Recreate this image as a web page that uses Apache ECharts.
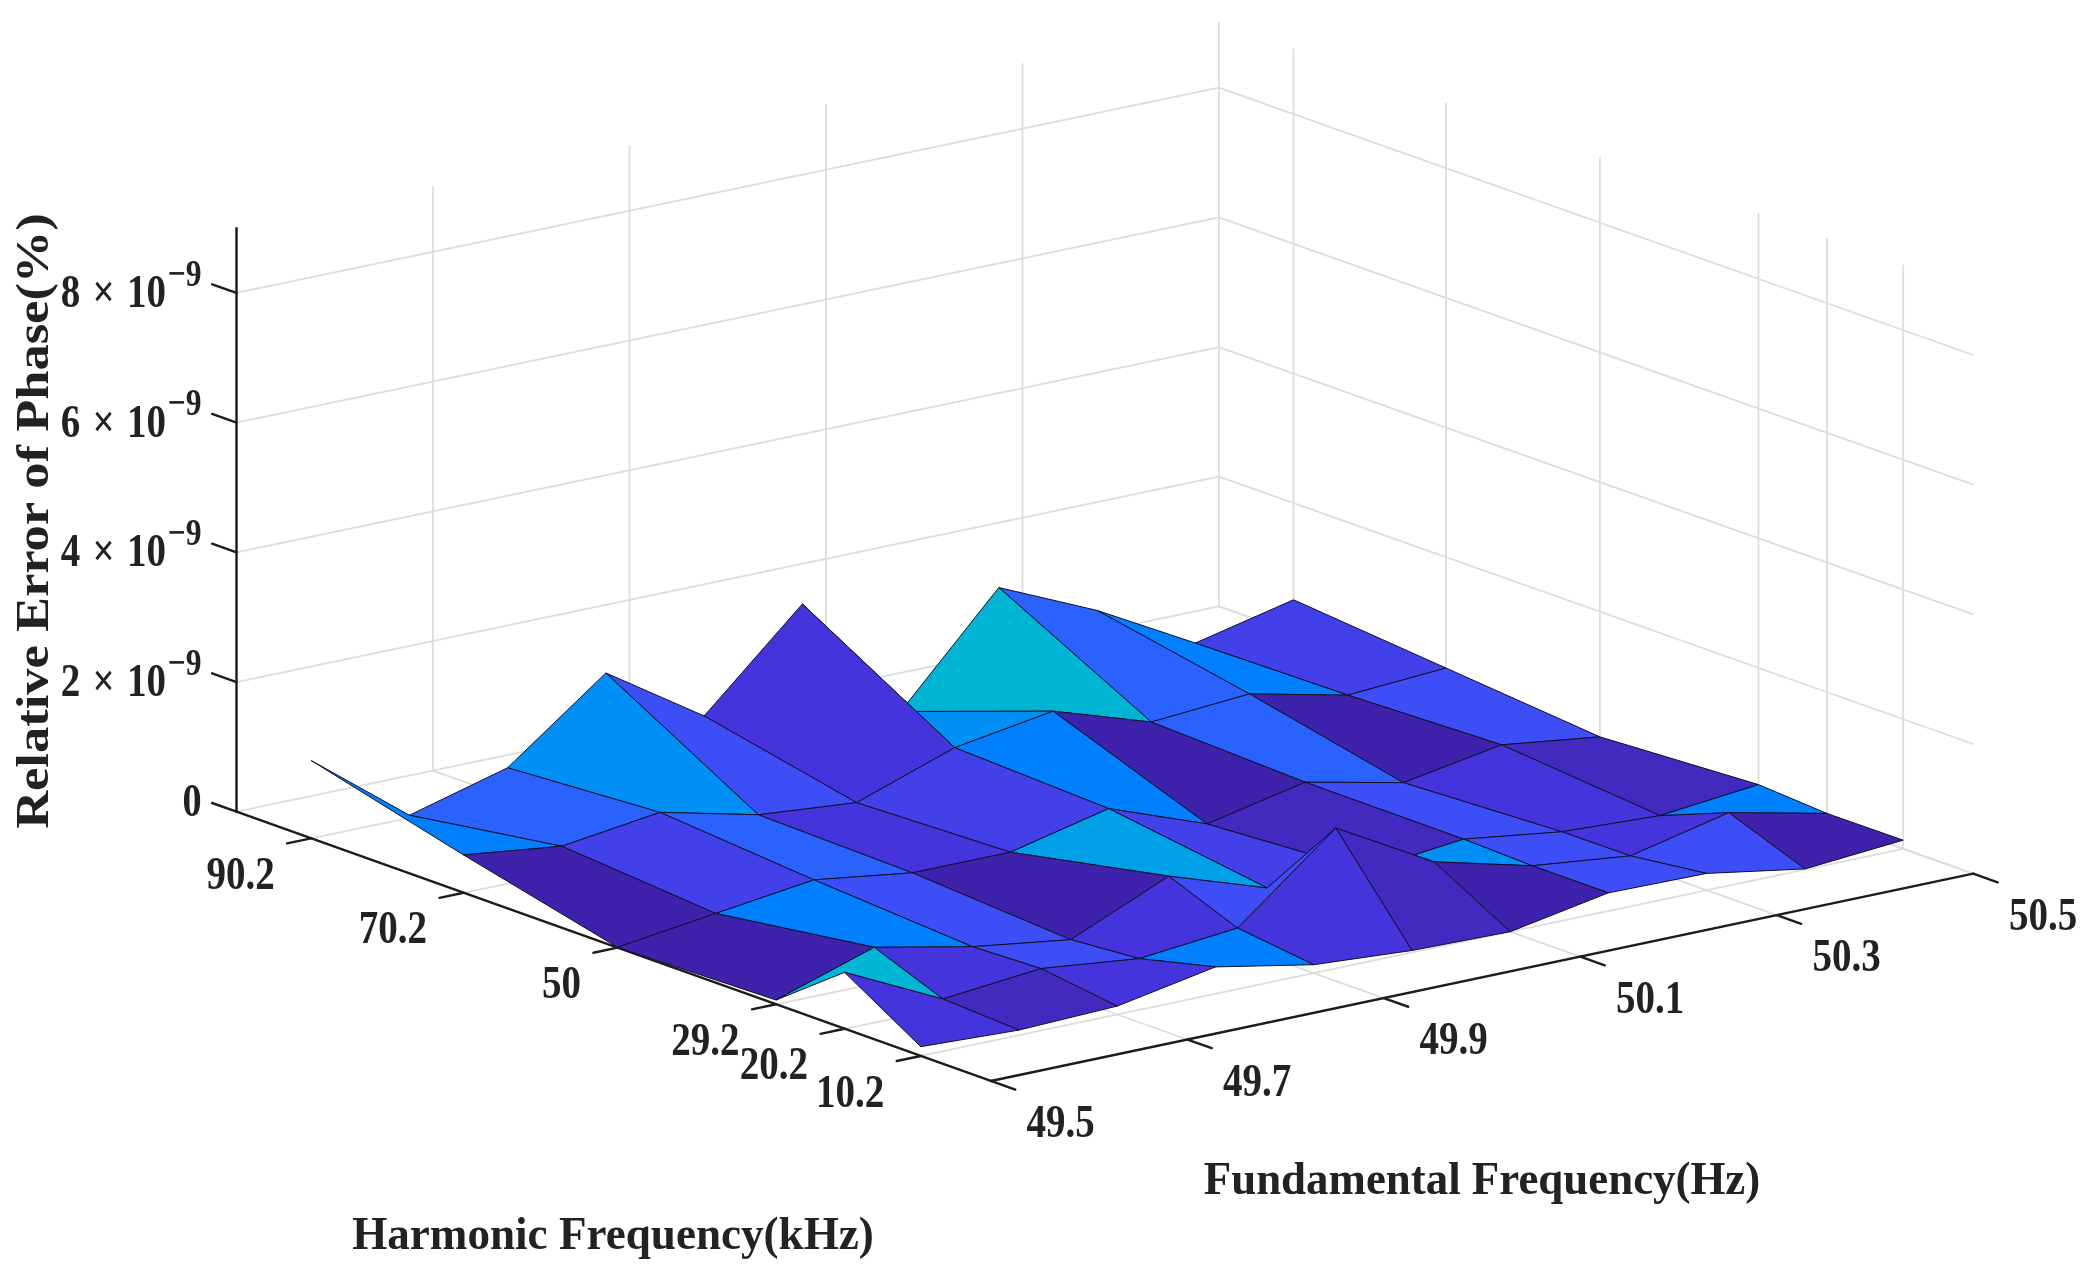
<!DOCTYPE html>
<html>
<head>
<meta charset="utf-8">
<style>html,body{margin:0;padding:0;background:#fff}#chart{width:2094px;height:1277px}</style>
<script src="https://cdn.jsdelivr.net/npm/echarts@6/dist/echarts.min.js"></script>
</head>
<body>
<div id="chart"></div>
<script>
// ---- data ----
const fundamentalFreq = [49.5,49.6,49.7,49.8,49.9,50,50.1,50.2,50.3,50.4,50.5];
const harmonicFreq = [90.2,70.2,50,29.2,20.2,10.2];
const fundamentalTicks = [49.5,49.7,49.9,50.1,50.3,50.5];
const harmonicTicks = [90.2,70.2,50,29.2,20.2,10.2];
const errorTicks = [0,2,4,6,8];
// relative error in units of 1e-9 %, one list per harmonic frequency
const errorAt90_2 = [1.2,0.04,0.455,1.6,0.62,2.03,0.055,1.65,0.98,0.16,0.51];
const errorAt70_2 = [0.583,0.4,0.605,0.25,0.12,0.65,0.895,0.41,0.526,0.19,0.29];
const errorAt50   = [0.006,0.21,0.41,0.2,0.2,0.555,0,0.325,0,0.265,0.07];
const errorAt29_2 = [0.066,0.56,0.25,0.04,0.7,0.2,0.15,0.315,0.11,0.04,0.2];
const errorAt20_2 = [0.87,0.14,0.29,0.125,0.276,1.5,0.66,0.28,0.114,0.46,0.13];
const errorAt10_2 = [0.143,0.08,0.13,0.415,0.13,0.03,0,0.28,0.26,0.01,0.134];
// colour level of every surface facet, index into the colour ramp
const facetLevel90_70 = [6,5,7,4,2,7,9,5,6,3];
const facetLevel70_50 = [0,3,5,2,3,6,0,5,0,4];
const facetLevel50_29 = [0,6,4,0,8,3,1,4,2,1];
const facetLevel29_20 = [9,2,4,2,4,4,7,4,2,6];
const facetLevel20_10 = [2,1,2,6,2,1,0,4,4,0];
const colorRamp = ['#3E22AC','#4229C0','#4534DC','#4240E8','#3D4EF6','#2A62FF','#0080FF','#0090F5','#00A0E8','#00B4D4'];
const xTitle = 'Fundamental Frequency(Hz)';
const yTitle = 'Harmonic Frequency(kHz)';
const zTitle = 'Relative Error of Phase(%)';

// ---- assembled tables ----
const errorGrid = [errorAt90_2,errorAt70_2,errorAt50,errorAt29_2,errorAt20_2,errorAt10_2];
const facetLevels = [facetLevel90_70,facetLevel70_50,facetLevel50_29,facetLevel29_20,facetLevel20_10];
const F0=49.5,F1=50.5,H0=1,H1=100,Z0=0,Z1=9;

// view of the MATLAB box onto the page plane
function project(f,h,z){
  const t=f-F0;
  return [998.5+982.4*t-7.62*h, 1083.7-207.3*t-2.72*h-64.84*z+2*t*h/100];
}

// ---- layers ----
const gridSegs=[];
errorTicks.forEach(z=>{
  gridSegs.push([[F0,H1,z],[F1,H1,z]]);
  gridSegs.push([[F1,H1,z],[F1,H0,z]]);
});
fundamentalTicks.forEach(f=>{
  gridSegs.push([[f,H1,Z0],[f,H1,Z1]]);
  gridSegs.push([[f,H0,Z0],[f,H1,Z0]]);
});
harmonicTicks.forEach(h=>{
  gridSegs.push([[F1,h,Z0],[F1,h,Z1]]);
  gridSegs.push([[F0,h,Z0],[F1,h,Z0]]);
});
const axisSegs=[
  [[F0,H1,Z0],[F0,H1,Z1]],
  [[F0,H1,Z0],[F0,H0,Z0]],
  [[F0,H0,Z0],[F1,H0,Z0]]
];
errorTicks.forEach(z=>axisSegs.push([[F0,H1,z],[F0,H1+3.2,z]]));
harmonicTicks.forEach(h=>axisSegs.push([[F0,h,Z0],[F0-0.0245,h,Z0]]));
fundamentalTicks.forEach(f=>axisSegs.push([[f,H0,Z0],[f,H0-3.2,Z0]]));

const facets=[];
for(let r=0;r<harmonicFreq.length-1;r++){
  for(let i=fundamentalFreq.length-2;i>=0;i--){
    facets.push({r,i});
  }
}

function segSeries(segs,color,width,z){
  return {
    type:'custom',coordinateSystem:'cartesian2d',silent:true,animation:false,clip:false,z,
    data:segs.map((s,k)=>[k,k]),
    renderItem(params,api){
      const s=segs[params.dataIndex];
      const a=api.coord(project(...s[0])),b=api.coord(project(...s[1]));
      return {type:'line',shape:{x1:a[0],y1:a[1],x2:b[0],y2:b[1]},style:{stroke:color,lineWidth:width,lineCap:'round'}};
    }
  };
}

const surfaceSeries={
  type:'custom',coordinateSystem:'cartesian2d',silent:true,animation:false,clip:false,z:5,
  data:facets.map((c,k)=>[k,k]),
  renderItem(params,api){
    const {r,i}=facets[params.dataIndex];
    const corner=(ci,cr)=>api.coord(project(fundamentalFreq[ci],harmonicFreq[cr],errorGrid[cr][ci]));
    return {type:'polygon',
      shape:{points:[corner(i,r),corner(i+1,r),corner(i+1,r+1),corner(i,r+1)]},
      style:{fill:colorRamp[facetLevels[r][i]],stroke:'#10102a',lineWidth:1,lineJoin:'round'}};
  }
};

const FONT='"Liberation Serif"';
const INK='#222222';
const SX=0.83;
const labels=[];
harmonicTicks.forEach(h=>labels.push({anchor:[F0,h,Z0],dx:-36.5,dy:38.5,align:'right',text:String(h)}));
fundamentalTicks.forEach(f=>labels.push({anchor:[f,H0,Z0],dx:35.6,dy:44,align:'left',text:f.toFixed(1)}));
errorTicks.forEach(z=>{
  if(z===0) labels.push({anchor:[F0,H1,z],dx:-35,dy:-8,align:'right',text:'0',size:46});
  else labels.push({anchor:[F0,H1,z],dx:-35,dy:2,align:'right',text:z+' {x|×} 10{s|−9}',size:47,rich:true});
});
const labelSeries={
  type:'custom',coordinateSystem:'cartesian2d',silent:true,animation:false,clip:false,z:10,
  data:labels.map((c,k)=>[k,k]),
  renderItem(params,api){
    const l=labels[params.dataIndex];
    const p=api.coord(project(...l.anchor));
    const size=l.size||47;
    const style={text:l.text,x:0,y:0,align:l.align,verticalAlign:'middle',fill:INK,
      fontFamily:FONT,fontWeight:'bold',fontSize:size};
    if(l.rich){
      style.rich={
        x:{fontFamily:FONT,fontWeight:'bold',fontSize:size,fill:INK,padding:[0,3,0,3]},
        s:{fontFamily:FONT,fontWeight:'bold',fontSize:38,fill:INK,padding:[0,0,38,2]}
      };
    }
    return {type:'text',x:p[0]+l.dx,y:p[1]+l.dy,scaleX:SX,style};
  }
};

const titles=[
  {text:yTitle,cx:613,cy:1237,sx:0.96,rot:0},
  {text:xTitle,cx:1482,cy:1182,sx:0.955,rot:0},
  {text:zTitle,cx:36,cy:521,sx:1.117,rot:Math.PI/2}
];
const titleSeries={
  type:'custom',coordinateSystem:'cartesian2d',silent:true,animation:false,clip:false,z:10,
  data:titles.map((c,k)=>[k,k]),
  renderItem(params,api){
    const t=titles[params.dataIndex];
    const p=api.coord([t.cx,t.cy]);
    return {type:'text',x:p[0],y:p[1],rotation:t.rot,scaleX:t.sx,
      style:{text:t.text,x:0,y:0,align:'center',verticalAlign:'middle',fill:INK,
        fontFamily:FONT,fontWeight:'bold',fontSize:47}};
  }
};

const chart=echarts.init(document.getElementById('chart'),null,{renderer:'canvas'});
chart.setOption({
  backgroundColor:'#ffffff',
  animation:false,
  grid:{left:0,right:0,top:0,bottom:0,containLabel:false},
  xAxis:{type:'value',min:0,max:2094,show:false},
  yAxis:{type:'value',min:0,max:1277,inverse:true,show:false},
  series:[
    segSeries(gridSegs,'#dddddd',1.8,1),
    segSeries(axisSegs,'#1c1c1c',2.4,2),
    surfaceSeries,
    labelSeries,
    titleSeries
  ]
});
</script>
</body>
</html>
